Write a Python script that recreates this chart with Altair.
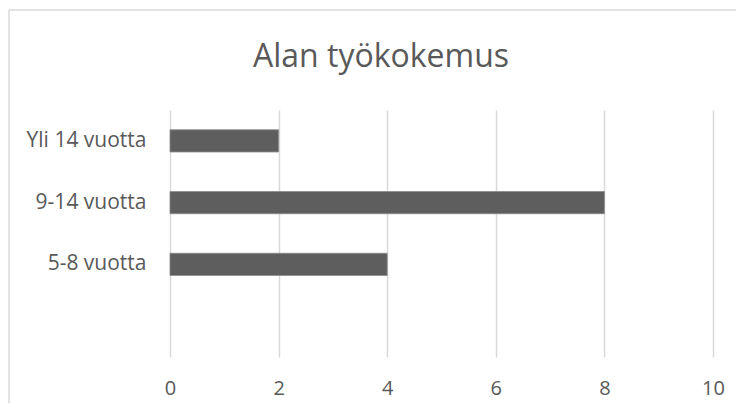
import altair as alt
import pandas as pd

categories = ["Yli 14 vuotta", "9-14 vuotta", "5-8 vuotta", " "]
counts = [2, 8, 4]
x_ticks = [0, 2, 4, 6, 8, 10]
title_text = "Alan työkokemus"

df = pd.DataFrame({"kategoria": categories[:3], "lukumaara": counts})

W, H = 543, 247

left_edge = alt.Chart(alt.Data(values=[{}])).mark_rule(
    color="#d9d9d9", strokeWidth=1.5
).encode(x=alt.value(-161), y=alt.value(-100), y2=alt.value(300))

top_edge = alt.Chart(alt.Data(values=[{}])).mark_rule(
    color="#d9d9d9", strokeWidth=1.5
).encode(y=alt.value(-100), x=alt.value(-161), x2=alt.value(570))

title = alt.Chart(alt.Data(values=[{}])).mark_text(
    text=title_text, font="Open Sans", fontSize=32, color="#595959",
    align="center", baseline="alphabetic"
).encode(x=alt.value(211), y=alt.value(-43))

bars = alt.Chart(df).mark_bar(
    color="#5e5e5e", stroke="#8c8c8c", strokeWidth=0.8
).encode(
    x=alt.X("lukumaara:Q",
            scale=alt.Scale(domain=[0, 10], nice=False),
            axis=alt.Axis(values=x_ticks, title=None, domain=False, ticks=False,
                          grid=True, gridColor="#d9d9d9", gridWidth=1.5,
                          labelFlush=False,
                          labelFont="Open Sans", labelFontSize=20,
                          labelColor="#595959", labelPadding=21)),
    y=alt.Y("kategoria:N",
            scale=alt.Scale(domain=categories, paddingInner=0.64, paddingOuter=0.32),
            sort=categories,
            axis=alt.Axis(title=None, domain=False, ticks=False, grid=False,
                          labelFont="Open Sans", labelFontSize=21,
                          labelColor="#595959", labelPadding=24)),
)

chart = alt.layer(left_edge, top_edge, title, bars).properties(
    width=W, height=H,
    autosize=alt.AutoSizeParams(type="none"),
    padding={"left": 162, "top": 102, "right": 23, "bottom": 46},
).configure_view(stroke=None)

chart.save("out.html", embed_options={"renderer": "svg", "actions": False})
